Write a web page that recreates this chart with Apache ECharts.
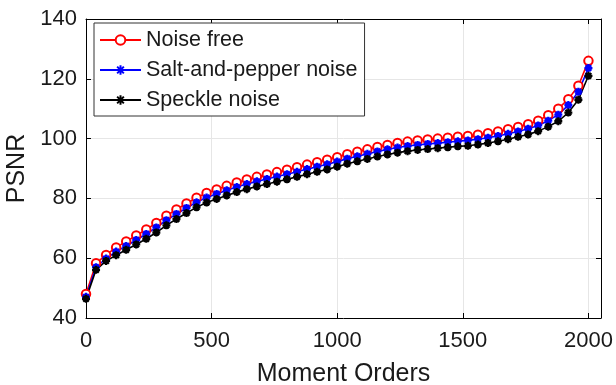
<!DOCTYPE html>
<html>
<head>
<meta charset="utf-8">
<script src="https://cdn.jsdelivr.net/npm/echarts@6/dist/echarts.min.js"></script>
<style>html,body{margin:0;padding:0;background:#fff;}#c{width:616px;height:385px;}</style>
</head>
<body>
<div id="c"></div>
<script>
var momentOrders = [0,40,80,120,160,200,240,280,320,360,400,440,480,520,560,600,640,680,720,760,800,840,880,920,960,1000,1040,1080,1120,1160,1200,1240,1280,1320,1360,1400,1440,1480,1520,1560,1600,1640,1680,1720,1760,1800,1840,1880,1920,1960,2000];
var noiseFree = [48.0,58.3,61.1,63.6,65.6,67.6,69.6,71.8,74.2,76.3,78.3,80.2,81.8,83.0,84.2,85.3,86.3,87.2,88.0,88.8,89.6,90.4,91.3,92.1,92.9,93.8,94.8,95.6,96.4,97.2,97.9,98.5,99.0,99.4,99.7,100.0,100.3,100.6,100.9,101.3,101.8,102.4,103.1,103.9,104.8,106.0,107.8,110.0,113.2,117.7,126.0];
var saltPepper = [47.1,57.0,59.9,62.2,64.1,66.1,68.1,70.3,72.7,74.8,76.8,78.7,80.3,81.5,82.7,83.8,84.8,85.7,86.5,87.3,88.1,88.9,89.8,90.6,91.4,92.3,93.3,94.1,94.9,95.7,96.4,97.0,97.5,97.9,98.2,98.5,98.8,99.1,99.4,99.8,100.3,100.9,101.6,102.4,103.3,104.4,106.0,108.0,111.2,115.7,123.6];
var speckle = [46.4,56.1,59.1,61.0,62.8,64.6,66.5,68.6,71.0,73.1,75.1,77.0,78.6,79.8,81.0,82.1,83.1,84.0,84.8,85.6,86.4,87.2,88.1,88.9,89.7,90.6,91.6,92.4,93.2,94.0,94.7,95.3,95.8,96.2,96.5,96.8,97.1,97.4,97.6,98.0,98.5,99.1,99.8,100.6,101.4,102.5,104.0,105.8,108.7,113.0,121.0];
var xTicks = {min:0, max:2050, interval:500};
var yTicks = {min:40, max:140, interval:20};

function pairs(xs, ys){ return xs.map(function(x,i){ return [x, ys[i]]; }); }
function plain(v){ return String(v); }

var star = 'path://M5,0 L5,10 M0,5 L10,5 M1.5,1.5 L8.5,8.5 M8.5,1.5 L1.5,8.5';
var font = '"Liberation Sans", Arial, sans-serif';
var txt = '#1a1a1a';

var chart = echarts.init(document.getElementById('c'), null, {renderer:'canvas'});
chart.setOption({
  animation:false,
  backgroundColor:'#fff',
  textStyle:{fontFamily:font},
  grid:{left:86, right:15, top:19, bottom:67, containLabel:false, outerBoundsMode:'none'},
  legend:{
    left:94, top:23, orient:'vertical',
    itemWidth:41, itemHeight:12, itemGap:8,
    padding:[6,7,5,5],
    backgroundColor:'#fff', borderColor:'#333', borderWidth:1,
    textStyle:{fontFamily:font, fontSize:21.5, color:txt},
    data:['Noise free','Salt-and-pepper noise','Speckle noise']
  },
  xAxis:[{
    type:'value', min:xTicks.min, max:xTicks.max, interval:xTicks.interval,
    name:'Moment Orders', nameLocation:'middle', nameGap:44,
    nameTextStyle:{fontSize:25, color:txt, fontFamily:font},
    axisLine:{show:true, onZero:false, lineStyle:{color:'#000', width:1}},
    axisTick:{show:true, inside:true, length:5, lineStyle:{color:'#000'}},
    axisLabel:{fontSize:22, color:txt, margin:12, showMaxLabel:false, fontFamily:font, formatter:plain},
    splitLine:{show:true, lineStyle:{color:'#e6e6e6', width:1}}
  },{
    type:'value', position:'top', min:xTicks.min, max:xTicks.max, interval:xTicks.interval,
    axisLine:{show:true, onZero:false, lineStyle:{color:'#000', width:1}},
    axisTick:{show:true, inside:true, length:5, lineStyle:{color:'#000'}},
    axisLabel:{show:false}, splitLine:{show:false}
  }],
  yAxis:[{
    type:'value', min:yTicks.min, max:yTicks.max, interval:yTicks.interval,
    name:'PSNR', nameLocation:'middle', nameGap:52, nameRotate:90,
    nameTextStyle:{fontSize:25, color:txt, fontFamily:font},
    axisLine:{show:true, onZero:false, lineStyle:{color:'#000', width:1}},
    axisTick:{show:true, inside:true, length:5, lineStyle:{color:'#000'}},
    axisLabel:{fontSize:22, color:txt, margin:9, fontFamily:font, formatter:plain},
    splitLine:{show:true, lineStyle:{color:'#e6e6e6', width:1}}
  },{
    type:'value', position:'right', min:yTicks.min, max:yTicks.max, interval:yTicks.interval,
    axisLine:{show:true, onZero:false, lineStyle:{color:'#000', width:1}},
    axisTick:{show:true, inside:true, length:5, lineStyle:{color:'#000'}},
    axisLabel:{show:false}, splitLine:{show:false}
  }],
  series:[{
    name:'Noise free', type:'line', data:pairs(momentOrders, noiseFree),
    symbol:'emptyCircle', symbolSize:8.5, showAllSymbol:true,
    lineStyle:{color:'#ff0000', width:1.6},
    itemStyle:{color:'#ff0000', borderColor:'#ff0000', borderWidth:1.8}
  },{
    name:'Salt-and-pepper noise', type:'line', data:pairs(momentOrders, saltPepper),
    symbol:star, symbolSize:8, showAllSymbol:true,
    lineStyle:{color:'#0000ff', width:1.6},
    itemStyle:{color:'#0000ff', borderColor:'#0000ff', borderWidth:2.3}
  },{
    name:'Speckle noise', type:'line', data:pairs(momentOrders, speckle),
    symbol:star, symbolSize:8, showAllSymbol:true,
    lineStyle:{color:'#000000', width:1.6},
    itemStyle:{color:'#000000', borderColor:'#000000', borderWidth:2.3}
  }]
});
</script>
</body>
</html>
